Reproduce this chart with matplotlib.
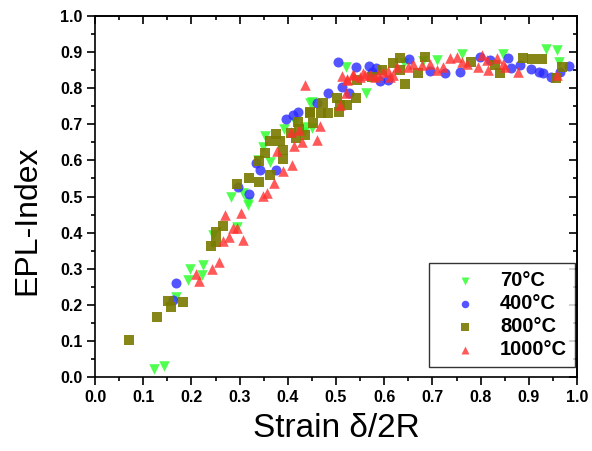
import numpy as np
import matplotlib
matplotlib.use("Agg")
import matplotlib.pyplot as plt
from matplotlib.ticker import MultipleLocator

# EPL-index vs strain, four annealing temperatures
labels = ["70°C", "400°C", "800°C", "1000°C"]

x70 = [0.123, 0.144, 0.167, 0.192, 0.197, 0.223, 0.221, 0.244, 0.282, 0.308, 0.318, 0.318,
       0.294, 0.362, 0.348, 0.353, 0.392, 0.434, 0.447, 0.450, 0.450, 0.415, 0.436, 0.520,
       0.562, 0.709, 0.761, 0.847, 0.936, 0.958, 0.963, 0.338, 0.640, 0.680]
y70 = [0.022, 0.031, 0.222, 0.270, 0.299, 0.310, 0.283, 0.393, 0.498, 0.509, 0.476, 0.486,
       0.416, 0.596, 0.636, 0.668, 0.686, 0.680, 0.760, 0.689, 0.763, 0.707, 0.693, 0.860,
       0.786, 0.878, 0.896, 0.896, 0.910, 0.907, 0.873, 0.600, 0.870, 0.875]

x400 = [0.162, 0.167, 0.296, 0.320, 0.334, 0.342, 0.376, 0.396, 0.411, 0.422, 0.460, 0.484,
        0.505, 0.512, 0.526, 0.541, 0.568, 0.574, 0.583, 0.591, 0.607, 0.652, 0.695, 0.726,
        0.757, 0.799, 0.820, 0.857, 0.864, 0.882, 0.905, 0.922, 0.930, 0.945, 0.965, 0.984]
y400 = [0.213, 0.260, 0.527, 0.507, 0.594, 0.573, 0.573, 0.714, 0.726, 0.735, 0.760, 0.786,
        0.872, 0.804, 0.788, 0.860, 0.862, 0.846, 0.855, 0.821, 0.823, 0.880, 0.849, 0.841,
        0.846, 0.887, 0.878, 0.883, 0.855, 0.864, 0.852, 0.846, 0.841, 0.832, 0.846, 0.862]

x800 = [0.071, 0.128, 0.152, 0.158, 0.183, 0.241, 0.250, 0.252, 0.266, 0.294, 0.320, 0.340,
        0.363, 0.340, 0.389, 0.353, 0.362, 0.376, 0.384, 0.391, 0.422, 0.407, 0.418, 0.436,
        0.446, 0.452, 0.424, 0.447, 0.474, 0.468, 0.484, 0.506, 0.508, 0.523, 0.541, 0.503,
        0.543, 0.574, 0.595, 0.618, 0.633, 0.633, 0.643, 0.671, 0.685, 0.781, 0.830, 0.840,
        0.887, 0.906, 0.927, 0.956, 0.968]
y800 = [0.102, 0.167, 0.210, 0.193, 0.207, 0.364, 0.373, 0.402, 0.418, 0.536, 0.550, 0.541,
        0.560, 0.598, 0.604, 0.621, 0.655, 0.673, 0.655, 0.629, 0.707, 0.675, 0.661, 0.670,
        0.730, 0.705, 0.686, 0.735, 0.758, 0.730, 0.732, 0.735, 0.753, 0.753, 0.772, 0.772,
        0.823, 0.832, 0.850, 0.871, 0.883, 0.850, 0.812, 0.841, 0.887, 0.873, 0.864, 0.843,
        0.883, 0.880, 0.880, 0.827, 0.860]

x1000 = [0.210, 0.216, 0.242, 0.257, 0.266, 0.270, 0.279, 0.286, 0.294, 0.302, 0.308, 0.348,
         0.356, 0.372, 0.378, 0.391, 0.409, 0.407, 0.424, 0.413, 0.430, 0.460, 0.436, 0.467,
         0.508, 0.521, 0.512, 0.523, 0.535, 0.550, 0.557, 0.571, 0.588, 0.608, 0.619, 0.522,
         0.536, 0.560, 0.581, 0.598, 0.612, 0.626, 0.650, 0.660, 0.678, 0.695, 0.709, 0.721,
         0.737, 0.750, 0.761, 0.771, 0.795, 0.802, 0.813, 0.816, 0.833, 0.847, 0.851, 0.878,
         0.958]
y1000 = [0.285, 0.266, 0.300, 0.319, 0.378, 0.449, 0.387, 0.414, 0.412, 0.453, 0.380, 0.501,
         0.509, 0.538, 0.627, 0.571, 0.587, 0.680, 0.684, 0.640, 0.652, 0.656, 0.809, 0.695,
         0.753, 0.786, 0.834, 0.826, 0.840, 0.832, 0.841, 0.836, 0.836, 0.849, 0.836, 0.823,
         0.836, 0.836, 0.832, 0.846, 0.832, 0.860, 0.860, 0.868, 0.864, 0.868, 0.850, 0.860,
         0.883, 0.887, 0.873, 0.868, 0.860, 0.892, 0.878, 0.850, 0.883, 0.868, 0.860, 0.846,
         0.836]

plt.rcParams['font.family'] = ['Liberation Sans', 'DejaVu Sans']

fig = plt.figure(figsize=(5.92, 4.51), dpi=100)
ax = fig.add_axes([0.1605, 0.164, 0.8142, 0.8005])

ax.scatter(x70, y70, marker='v', s=58, color='#33ff33', alpha=0.85, lw=0, label=labels[0])
ax.scatter(x400, y400, marker='o', s=52, color='#2a2aff', alpha=0.8, lw=0, label=labels[1])
ax.scatter(x800, y800, marker='s', s=52, color='#7a7a00', alpha=0.9, lw=0, label=labels[2])
ax.scatter(x1000, y1000, marker='^', s=58, color='#ff3030', alpha=0.8, lw=0, label=labels[3])

ax.set_xlim(0, 1.0)
ax.set_ylim(0, 1.0)
ax.xaxis.set_major_locator(MultipleLocator(0.1))
ax.xaxis.set_minor_locator(MultipleLocator(0.05))
ax.yaxis.set_major_locator(MultipleLocator(0.1))
ax.yaxis.set_minor_locator(MultipleLocator(0.05))
ax.xaxis.set_major_formatter(lambda v, p: f"{v:.1f}")
ax.yaxis.set_major_formatter(lambda v, p: f"{v:.1f}")

ax.tick_params(which='both', direction='out', width=1.2, labelsize=11.5, pad=3)
ax.tick_params(which='major', length=6)
ax.tick_params(which='minor', length=3)
for lab in ax.get_xticklabels() + ax.get_yticklabels():
    lab.set_fontweight('bold')

# top/right ticks pointing inward, no labels
axt = ax.secondary_xaxis('top')
axt.xaxis.set_major_locator(MultipleLocator(0.1))
axt.xaxis.set_minor_locator(MultipleLocator(0.05))
axt.tick_params(which='both', direction='in', labeltop=False, width=1.2)
axt.tick_params(which='major', length=6)
axt.tick_params(which='minor', length=3)
axr = ax.secondary_yaxis('right')
axr.yaxis.set_major_locator(MultipleLocator(0.1))
axr.yaxis.set_minor_locator(MultipleLocator(0.05))
axr.tick_params(which='both', direction='in', labelright=False, width=1.2)
axr.tick_params(which='major', length=6)
axr.tick_params(which='minor', length=3)
for a in (ax, axt, axr):
    for s in a.spines.values():
        s.set_linewidth(1.2)

ax.set_xlabel("Strain δ/2R", fontsize=24, labelpad=6)
ax.set_ylabel("EPL-Index", fontsize=23)
ax.yaxis.set_label_coords(-0.11, 0.435)

leg = ax.legend(loc='lower right', bbox_to_anchor=(0.996, 0.028), borderaxespad=0,
                prop={'weight': 'bold', 'size': 14.5}, fancybox=False, edgecolor='black',
                markerscale=0.75, handletextpad=0.35, labelspacing=0.2, borderpad=0.4,
                handlelength=2.8)
leg.get_frame().set_linewidth(1.0)

fig.savefig("out.png", dpi=100)
